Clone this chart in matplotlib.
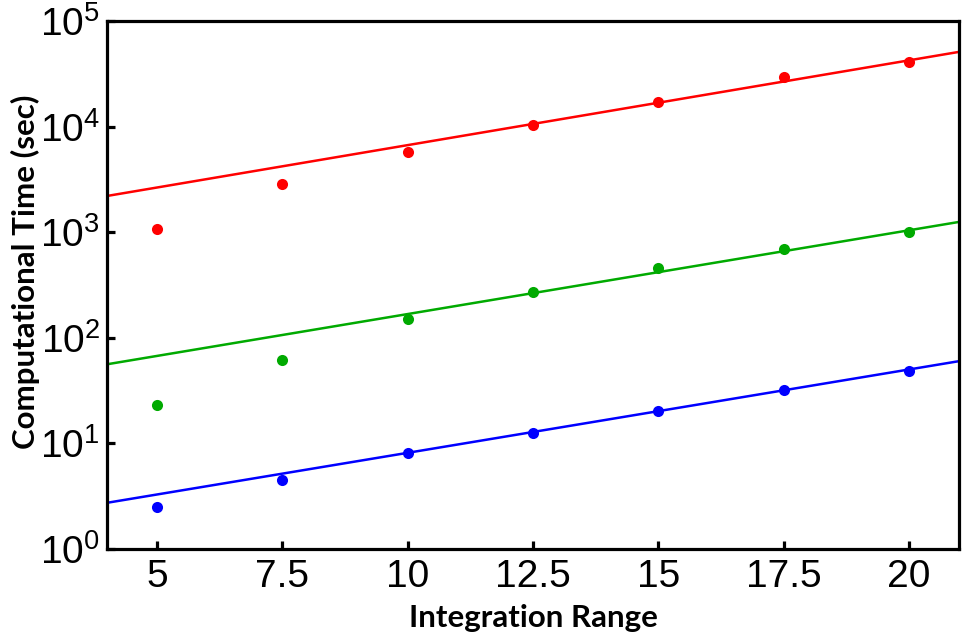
import numpy as np
import matplotlib
matplotlib.use("Agg")
import matplotlib.pyplot as plt
from matplotlib.ticker import LogLocator, NullLocator

# integration range values
ranges = [5, 7.5, 10, 12.5, 15, 17.5, 20]

# computational time (sec)
time_red = [1070, 2860, 5750, 10350, 17100, 29500, 40900]
time_green = [23, 61, 151, 271, 458, 692, 1000]
time_blue = [2.5, 4.5, 8.1, 12.5, 20.3, 32, 48.5]

# fitted lines, end points at the axis edges
fit_x = [4, 21]
fit_red = [2200, 51000]
fit_green = [56, 1250]
fit_blue = [2.73, 60]

x_ticks = [5, 7.5, 10, 12.5, 15, 17.5, 20]
x_ticklabels = ["5", "7.5", "10", "12.5", "15", "17.5", "20"]

plt.rcParams['font.family'] = ['Liberation Sans', 'DejaVu Sans']
plt.rcParams['mathtext.default'] = 'regular'

fig = plt.figure(figsize=(9.63, 6.36), dpi=100)
ax = fig.add_axes([0.111, 0.137, 0.885, 0.830])

colors = ["#ff0000", "#00aa00", "#0000ff"]
for ys, fit, c in [(time_red, fit_red, colors[0]),
                   (time_green, fit_green, colors[1]),
                   (time_blue, fit_blue, colors[2])]:
    ax.plot(fit_x, fit, color=c, lw=1.8, clip_on=True)
    ax.plot(ranges, ys, "o", color=c, ms=8, mec="none", clip_on=False)

ax.set_yscale("log")
ax.set_xlim(4, 21)
ax.set_ylim(1, 1e5)
ax.yaxis.set_major_locator(LogLocator(base=10, numticks=10))
ax.yaxis.set_minor_locator(NullLocator())
ax.set_xticks(x_ticks)
ax.set_xticklabels(x_ticklabels)

for s in ax.spines.values():
    s.set_linewidth(2.3)
ax.tick_params(direction="in", length=6, width=2.3, labelsize=28, pad=5)
ax.tick_params(axis="x", pad=7)

lab_font = dict(family=["Lato", "DejaVu Sans"], weight="bold", size=22.5)
ax.set_xlabel("Integration Range", **lab_font, labelpad=7)
ax.set_ylabel("Computational Time (sec)", **lab_font)
ax.yaxis.set_label_coords(-0.079, 0.525)

fig.savefig("out.png", dpi=100)
